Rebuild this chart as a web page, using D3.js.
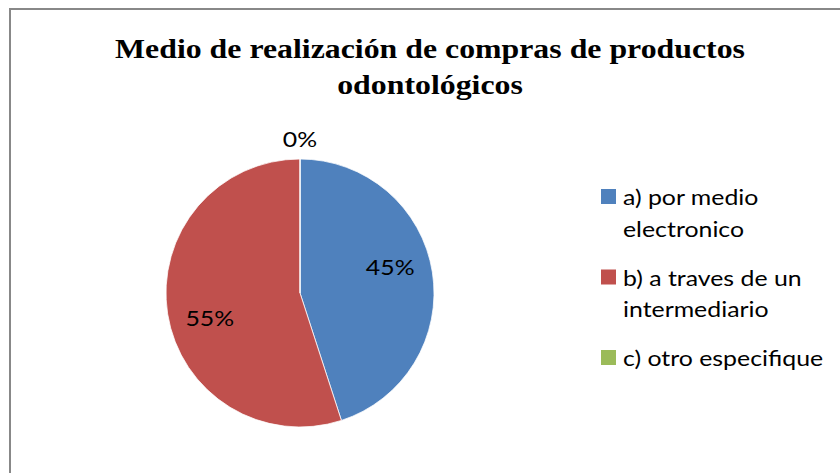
<!DOCTYPE html>
<html>
<head>
	<script src="https://d3js.org/d3.v7.min.js"></script>
	<style>
		body { margin: 0; background: #fff; }
	</style>
</head>
<body>
	<div class="chart"></div>
	<script>
		// chart data
		var categories = ["a) por medio electronico", "b) a traves de un intermediario", "c) otro especifique"];
		var legendLines = [["a) por medio", "electronico"], ["b) a traves de un", "intermediario"], ["c) otro especifique"]];
		var values = [45, 55, 0];
		var colors = ["#4F81BD", "#C0504D", "#9BBB59"];
		var titleLines = ["Medio de realización de compras de productos", "odontológicos"];

		var w = 840, h = 473;
		// the original text is a bit wider than the fonts we have
		var titleStretch = 1.137, textStretch = 1.13;
		var sans = "Lato, 'Open Sans', sans-serif";

		var svg = d3.select(".chart")
			.append("svg")
			.attr("width", w)
			.attr("height", h);

		svg.append("rect")
			.attr("x", 0).attr("y", 0)
			.attr("width", w).attr("height", h)
			.attr("fill", "#fff");

		// frame (only left and top edges are visible in the picture)
		svg.append("path")
			.attr("d", "M10," + (h + 5) + "V9H" + (w + 5))
			.attr("fill", "none")
			.attr("stroke", "#888")
			.attr("stroke-width", 2);

		// title
		svg.append("g")
			.attr("transform", "translate(430,58) scale(" + titleStretch + ",1)")
			.append("text")
			.attr("text-anchor", "middle")
			.style("font-family", "'Liberation Serif', 'Times New Roman', serif")
			.style("font-weight", "bold")
			.style("font-size", "28px")
			.selectAll("tspan")
			.data(titleLines)
			.enter()
			.append("tspan")
			.attr("x", 0)
			.attr("dy", function(d, i) { return i == 0 ? 0 : 36; })
			.text(function(d) { return d; });

		// pie
		var cx = 300, cy = 293, r = 134;
		var pie = d3.pie().sort(null).value(function(d) { return d; });
		var arcs = pie(values);
		var arc = d3.arc().innerRadius(0).outerRadius(r);
		var g = svg.append("g").attr("transform", "translate(" + cx + "," + cy + ")");

		g.selectAll("path")
			.data(arcs)
			.enter()
			.append("path")
			.attr("d", arc)
			.attr("fill", function(d, i) { return colors[i]; })
			.attr("stroke", "#fff")
			.attr("stroke-width", 0.75);

		// labels: inside for real slices, just outside for empty ones
		var fmt = d3.format(".0%");
		var total = d3.sum(values);
		g.selectAll("g.label")
			.data(arcs)
			.enter()
			.append("g")
			.attr("class", "label")
			.attr("transform", function(d) {
				var a = (d.startAngle + d.endAngle) / 2;
				var rr = d.value > 0 ? r * 0.7 : r + 20;
				if (d.value > 0) a -= 0.12;
				return "translate(" + (rr * Math.sin(a)) + "," + (-rr * Math.cos(a)) + ") scale(" + textStretch + ",1)";
			})
			.append("text")
			.attr("text-anchor", "middle")
			.attr("dy", "0.35em")
			.style("font-family", sans)
			.style("font-size", "22px")
			.attr("fill", "#000")
			.text(function(d) { return fmt(d.value / total); });

		// legend
		var legend = svg.append("g").attr("transform", "translate(601,189)");
		var item = legend.selectAll("g")
			.data(categories)
			.enter()
			.append("g")
			.attr("transform", function(d, i) { return "translate(0," + (i * 80.5) + ")"; });

		item.append("rect")
			.attr("width", 15)
			.attr("height", 15)
			.attr("fill", function(d, i) { return colors[i]; });

		item.append("g")
			.attr("transform", "translate(22,16) scale(" + textStretch + ",1)")
			.append("text")
			.style("font-family", sans)
			.style("font-size", "22px")
			.attr("fill", "#000")
			.selectAll("tspan")
			.data(function(d, i) { return legendLines[i]; })
			.enter()
			.append("tspan")
			.attr("x", 0)
			.attr("dy", function(d, i) { return i == 0 ? 0 : 32; })
			.text(function(d) { return d; });
	</script>
</body>
</html>
